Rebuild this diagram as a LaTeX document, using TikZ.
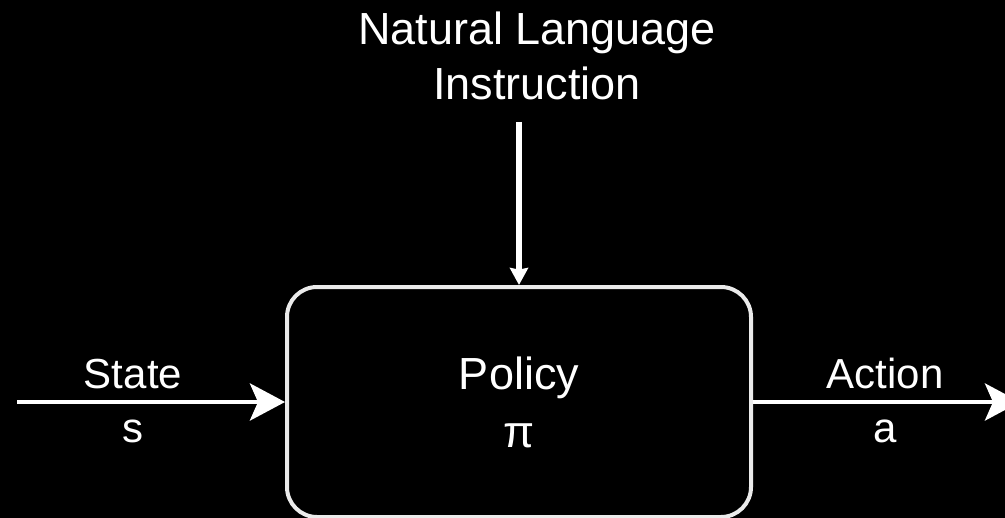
\documentclass[tikz,border=0pt]{standalone}
\usepackage{fontspec}
\setmainfont{Liberation Sans}
\usetikzlibrary{arrows.meta}
\begin{document}
\begin{tikzpicture}[x=0.5pt,y=-0.5pt,
  flow/.style={draw=white,line width=2.3pt,
    -{Stealth[length=17.5pt,width=18.5pt,inset=4pt]}},
  cue/.style={draw=white,line width=3pt,
    -{Stealth[length=8.5pt,width=9pt,inset=0.8pt]}},
  label/.style={text=white,anchor=base,inner sep=0pt,
    font=\fontsize{21}{25}\selectfont},
  block/.style={draw=white!92!black,line width=2pt,rounded corners=15pt,
    minimum width=232pt,minimum height=115pt,text=white,align=center,
    font=\fontsize{22.5}{29}\selectfont}]
  \useasboundingbox (0,0) rectangle (1005,518);
  \fill[black] (0,0) rectangle (1005,518);
  \clip (0,0) rectangle (1005,518);

  % the policy block
  \node[block] (policy) at (519,402) {Policy\\π};

  % the instruction that conditions the policy (base = last line)
  \node[text=white,anchor=base,inner sep=0pt,align=center,
    font=\fontsize{22.5}{27.5}\selectfont] (title) at (537,100)
    {Natural Language\\Instruction};
  \coordinate (cue) at (519,122);
  \draw[cue] (cue) -- (policy.north);

  % state in, action out
  \coordinate (src) at (17,402);
  \coordinate (dst) at (1020,402);
  \draw[flow] (src) -- (policy.west);
  \draw[flow] (policy.east) -- (dst);

  \node[label] (state) at (133,388) {State};
  \node[label] (s) at (133,442) {s};
  \node[label] (action) at (885,388) {Action};
  \node[label] (a) at (885,442) {a};
\end{tikzpicture}
\end{document}
